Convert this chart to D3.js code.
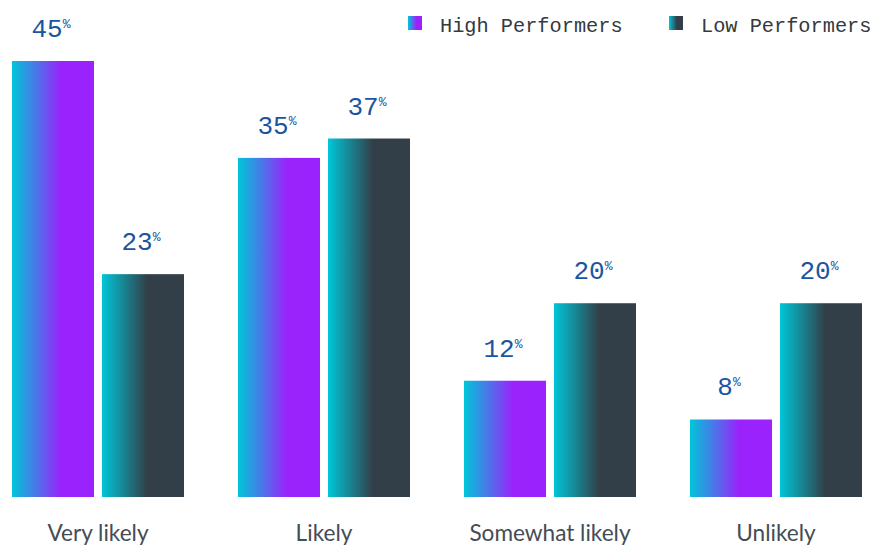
<!DOCTYPE html>
<html><head><meta charset="utf-8">
<script src="https://cdn.jsdelivr.net/npm/d3@7"></script>
<style>body{margin:0;background:#fff}</style>
</head><body>
<svg id="chart" width="886" height="546"></svg>
<script>
const categories = ["Very likely", "Likely", "Somewhat likely", "Unlikely"];
const seriesNames = ["High Performers", "Low Performers"];
const highValues = [45, 35, 12, 8];
const lowValues = [23, 37, 20, 20];

const svg = d3.select("#chart");
const defs = svg.append("defs");
const grads = [
  {id: "gHigh", stops: [["0%", "#00c6d8"], ["60%", "#9a22fb"], ["100%", "#9a22fe"]]},
  {id: "gLow", stops: [["0%", "#00c6d8"], ["55%", "#323f48"], ["100%", "#323f48"]]}
];
grads.forEach(g => {
  const lg = defs.append("linearGradient").attr("id", g.id).attr("x1", 0).attr("x2", 1).attr("y1", 0).attr("y2", 0);
  g.stops.forEach(s => lg.append("stop").attr("offset", s[0]).attr("stop-color", s[1]));
});

const x0 = d3.scaleBand().domain(categories).range([12, 862]).paddingInner(54/226).paddingOuter(0);
const x1 = d3.scaleBand().domain(seriesNames).range([0, x0.bandwidth()]).paddingInner(2 - 172/90).paddingOuter(0);
const y = d3.scaleLinear().domain([0, 45]).range([497, 61]);

const data = categories.map((c, i) => ({cat: c, vals: [
  {s: seriesNames[0], v: highValues[i], g: "gHigh"},
  {s: seriesNames[1], v: lowValues[i], g: "gLow"}]}));

const groups = svg.selectAll("g.grp").data(data).join("g").attr("class", "grp")
  .attr("transform", d => `translate(${x0(d.cat)},0)`);

groups.selectAll("rect").data(d => d.vals).join("rect")
  .attr("x", d => x1(d.s)).attr("width", x1.bandwidth())
  .attr("y", d => y(d.v)).attr("height", d => y(0) - y(d.v))
  .attr("fill", d => `url(#${d.g})`);

const lbl = groups.selectAll("text.val").data(d => d.vals).join("text").attr("class", "val")
  .attr("x", d => x1(d.s) + x1.bandwidth()/2 - 2)
  .attr("y", d => y(d.v) - 24)
  .attr("text-anchor", "middle")
  .attr("font-family", "'Liberation Mono', monospace")
  .attr("font-size", 26)
  .attr("fill", "#1b55a0");
lbl.append("tspan").text(d => d.v);
lbl.append("tspan").text("%").attr("font-size", 13).attr("dy", -9).attr("dx", 0);

svg.append("g").selectAll("text").data(categories).join("text")
  .attr("x", d => x0(d) + x0.bandwidth()/2)
  .attr("y", 541)
  .attr("text-anchor", "middle")
  .attr("font-family", "Lato, sans-serif")
  .attr("font-size", 22.6)
  .attr("fill", "#454c55")
  .text(d => d);

const legendX = [408, 669];
const legend = svg.append("g").selectAll("g").data(seriesNames).join("g")
  .attr("transform", (d, i) => `translate(${legendX[i]},16)`);
legend.append("rect").attr("width", 14).attr("height", 14)
  .attr("fill", (d, i) => `url(#${grads[i].id})`);
legend.append("text").attr("x", 32).attr("y", 15.5)
  .attr("font-family", "'Liberation Mono', monospace")
  .attr("font-size", 20.3)
  .attr("fill", "#333a40")
  .text(d => d);
</script>
</body></html>
